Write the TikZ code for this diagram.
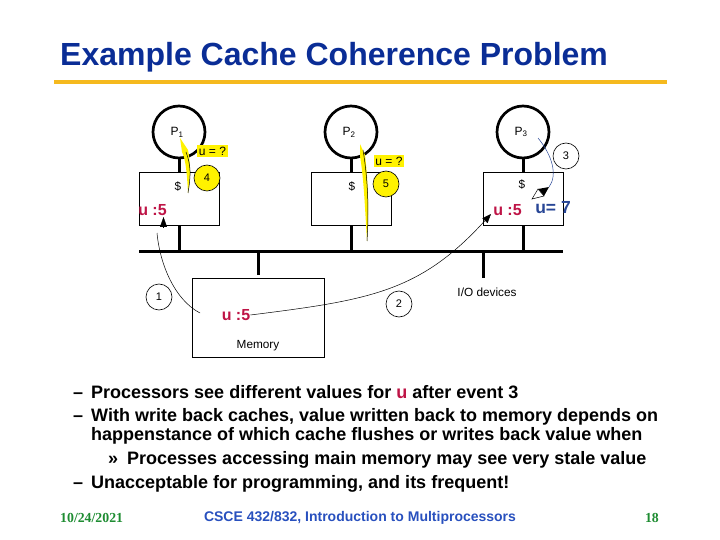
\documentclass[tikz,border=0pt]{standalone}
\usepackage{fontspec}
\setmainfont{Liberation Sans}
\newfontfamily\serifface{Liberation Serif}
\usetikzlibrary{shapes.geometric, positioning, arrows.meta}

\definecolor{titleblue}{RGB}{10,45,150}
\definecolor{ruleyellow}{RGB}{245,185,30}
\definecolor{valred}{RGB}{190,20,70}
\definecolor{valblue}{RGB}{40,70,150}
\definecolor{footgreen}{RGB}{30,140,50}
\definecolor{footblue}{RGB}{40,80,190}

\newcommand{\dashitem}[1]{\makebox[18pt][l]{–}#1}
\newcommand{\nesteditem}[1]{\makebox[19pt][l]{»}#1}

\tikzset{
    procnode/.style={draw, circle, line width=2.7pt, minimum size=52pt, inner sep=0pt, font=\fontsize{12}{12}\selectfont},
    cachebox/.style={draw, rectangle, line width=0.8pt, minimum width=80pt, minimum height=53pt, inner sep=0pt},
    eventnode/.style={draw, circle, line width=0.6pt, minimum size=26pt, inner sep=0pt, font=\fontsize{11}{11}\selectfont},
    smalltext/.style={inner sep=0pt, font=\fontsize{11.8}{12}\selectfont},
    valtext/.style={inner sep=0pt, font=\fontsize{16}{16}\bfseries\selectfont, text=valred},
    asktext/.style={fill=yellow, inner sep=1.5pt, font=\fontsize{12}{12}\selectfont},
    stem/.style={line width=3pt},
    bullettext/.style={anchor=west, inner sep=0pt, font=\fontsize{18}{18}\bfseries\selectfont},
    flow/.style={line width=0.5pt},
}

\begin{document}
\begin{tikzpicture}[x=1pt, y=-1pt]
    \useasboundingbox (0,0) rectangle (720,540);

    % title
    \node (title) [anchor=west, inner sep=0pt, font=\fontsize{32}{32}\bfseries\selectfont, text=titleblue] at (60,57) {Example Cache Coherence Problem};
    \coordinate (ruleL) at (54,82);
    \coordinate (ruleR) at (667,82);
    \draw[ruleyellow, line width=4pt] (ruleL) -- (ruleR);

    % processors and caches
    \node (p1) [procnode] at (179,132) {\hspace*{-4pt}P\textsubscript{1}};
    \node (p2) [procnode] at (351,132) {\hspace*{-4pt}P\textsubscript{2}};
    \node (p3) [procnode] at (523,132) {\hspace*{-4pt}P\textsubscript{3}};
    \node (c1) [cachebox] at (179,198.5) {};
    \node (c2) [cachebox] at (351,198.5) {};
    \node (c3) [cachebox] at (523,198.5) {};
    \node (d1) [smalltext] at (178,187) {\$};
    \node (d2) [smalltext] at (352,187) {\$};
    \node (d3) [smalltext] at (522,185) {\$};

    % bus
    \coordinate (busL) at (139,251);
    \coordinate (busR) at (563,251);
    \coordinate (b1) at (179,251);
    \coordinate (b2) at (351,251);
    \coordinate (b3) at (523,251);
    \coordinate (bm) at (258,251);
    \coordinate (bi) at (483,251);
    \draw[stem] (busL) -- (busR);
    \draw[stem] (p1) -- (c1);
    \draw[stem] (p2) -- (c2);
    \draw[stem] (p3) -- (c3);
    \draw[stem] (c1) -- (b1);
    \draw[stem] (c2) -- (b2);
    \draw[stem] (c3) -- (b3);

    % memory and devices
    \node (mem) [cachebox, minimum width=132pt, minimum height=79pt] at (258,317.5) {};
    \coordinate (mtop) at (258,275);
    \coordinate (itop) at (483,278);
    \draw[stem] (bm) -- (mtop);
    \draw[stem] (bi) -- (itop);
    \node (memlabel) [smalltext] at (258,346) {Memory};
    \node (iolabel) [smalltext] at (487,292) {I/O devices};

    % values
    \node (u1) [valtext] at (152.5,210) {u :5};
    \node (u2) [valtext] at (507.5,210) {u :5};
    \node (um) [valtext] at (236,315) {u :5};
    \node (u3) [valtext, text=valblue, font=\fontsize{17.5}{18}\bfseries\selectfont] at (553,208) {u= 7};
    \node (q1) [asktext] at (212.5,151) {u = ?};
    \node (q2) [asktext] at (389,161) {u = ?};

    % events
    \node (e1) [eventnode] at (159,297) {1};
    \node (e2) [eventnode] at (399,304) {2};
    \node (e3) [eventnode] at (566,156) {3};
    \node (e4) [eventnode, fill=yellow] at (207,178) {4};
    \node (e5) [eventnode, fill=yellow] at (386,184) {5};

    % reads, yellow wedge with a thin line down its side
    \coordinate (r1s) at (188,193);
    \coordinate (r1e) at (186,152);
    \coordinate (r2s) at (367,241);
    \coordinate (r2e) at (363,150);
    \fill[yellow] (180,138) -- (188,150) .. controls (191,165) and (190,180) .. (r1s) .. controls (187,175) and (186,160) .. (182,152) -- cycle;
    \draw[flow] (r1s) .. controls (191,175) and (191,165) .. (r1e);
    \fill[yellow] (360,144) -- (365,155) .. controls (368,180) and (369,210) .. (r2s) .. controls (365,210) and (364,180) .. (360,156) -- cycle;
    \draw[flow] (r2s) .. controls (369,210) and (368,180) .. (r2e);

    % writes
    \coordinate (w1s) at (200,313);
    \coordinate (w1m) at (157,233);
    \coordinate (w1t) at (163.5,227);
    \coordinate (w1e) at (163.5,217);
    \coordinate (w2e) at (491,214);
    \coordinate (w3s) at (538,138);
    \coordinate (w3e) at (549,187);
    \draw[flow] (w1s) .. controls (175,300) and (160,265) .. (w1m);
    \draw[-{Triangle[length=10pt,width=7pt]}] (w1t) -- (w1e);
    \draw[flow, -{Triangle[length=9pt,width=7pt]}] (um.east) .. controls (370,300) and (420,292) .. (w2e);
    \draw[flow, draw=valblue] (w3s) .. controls (552,155) and (558,175) .. (w3e);
    \fill (w3e) -- (544,196) -- (538,189) -- cycle;
    \draw[flow, fill=white] (538,189) -- (544,196) -- (532,199) -- cycle;

    % bullets
    \node (t1) [bullettext] at (73,392) {\dashitem{Processors see different values for \textcolor{valred}{u} after event 3}};
    \node (t2) [bullettext] at (73,417) {\dashitem{With write back caches, value written back to memory depends on}};
    \node (t3) [bullettext] at (91,436) {happenstance of which cache flushes or writes back value when};
    \node (t4) [bullettext] at (108,460) {\nesteditem{Processes accessing main memory may see very stale value}};
    \node (t5) [bullettext] at (73,484) {\dashitem{Unacceptable for programming, and its frequent!}};

    % footer
    \node (date) [anchor=west, inner sep=0pt, font=\serifface\fontsize{13.8}{14}\bfseries\selectfont, text=footgreen] at (60,518) {10/24/2021};
    \node (course) [inner sep=0pt, font=\fontsize{14}{14}\bfseries\selectfont, text=footblue] at (360,518) {CSCE 432/832, Introduction to Multiprocessors};
    \node (page) [anchor=east, inner sep=0pt, font=\serifface\fontsize{13.8}{14}\bfseries\selectfont, text=footgreen] at (659,518) {18};
\end{tikzpicture}
\end{document}
